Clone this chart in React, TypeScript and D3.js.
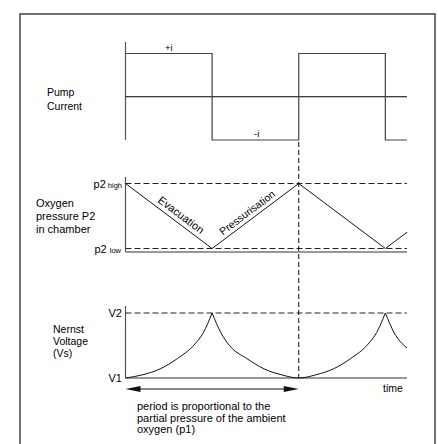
import React from "react";
import * as d3 from "d3";

// time is measured in half-periods of the pump cycle
const pumpTimes = [0, 1, 2, 3, 3.25];
const pumpLevels = [1, -1, 1, -1, -1];

const pressureTimes = [0, 1, 2, 3, 3.25];
const pressureLevels = [1, 0, 1, 0, 0.25];

const nernstTimes = [0, 0.2, 0.4, 0.6, 0.8, 0.9, 1.0, 1.1, 1.2, 1.4, 1.6, 1.8, 2.0, 2.2, 2.4, 2.6, 2.8, 2.9, 3.0, 3.1, 3.25];
const nernstLevels = [0, 0.05, 0.14, 0.3, 0.52, 0.7, 1.0, 0.7, 0.5, 0.3, 0.14, 0.05, 0, 0.05, 0.14, 0.3, 0.52, 0.7, 1.0, 0.7, 0.46];

const periodStart = 0;
const periodEnd = 2;
const timeEnd = 3.25;

const FONT = "Liberation Sans, Arial, sans-serif";

const App = () => {
  const x = d3.scaleLinear().domain([0, timeEnd]).range([125.5, 407]);
  const yPump = d3.scaleLinear().domain([-1, 1]).range([140, 53.5]);
  const yPress = d3.scaleLinear().domain([0, 1]).range([248.5, 183.5]);
  const yNernst = d3.scaleLinear().domain([0, 1]).range([378, 313]);

  const pumpLine = d3
    .line<number>()
    .x((d, i) => x(pumpTimes[i]))
    .y((d) => yPump(d))
    .curve(d3.curveStepAfter);

  const pressLine = d3
    .line<number>()
    .x((d, i) => x(pressureTimes[i]))
    .y((d) => yPress(d));

  // split the nernst curve at its cusps (the peaks) so each piece is smooth
  const pts = nernstTimes.map((t, i) => [t, nernstLevels[i]] as [number, number]);
  const pieces: [number, number][][] = [];
  let cur: [number, number][] = [];
  pts.forEach((p) => {
    cur.push(p);
    if (p[1] === 1) {
      pieces.push(cur);
      cur = [p];
    }
  });
  if (cur.length > 1) pieces.push(cur);
  const nernstLine = d3
    .line<[number, number]>()
    .x((d) => x(d[0]))
    .y((d) => yNernst(d[1]))
    .curve(d3.curveMonotoneX);

  const x0 = x(0);
  const xEnd = x(timeEnd);
  const xMark = x(periodEnd);

  // slope of the pressure ramps, for the rotated labels
  const dxRamp = x(1) - x(0);
  const dyRamp = yPress(0) - yPress(1);
  const angle = (Math.atan2(dyRamp, dxRamp) * 180) / Math.PI;

  const evacX = (x(0) + x(1)) / 2 + 10;
  const evacY = (yPress(1) + yPress(0)) / 2 + 2;
  const pressX = (x(1) + x(2)) / 2 - 6;
  const pressY = (yPress(0) + yPress(1)) / 2 - 0.5;

  const arrowY = 389;
  const ax0 = x(periodStart);
  const ax1 = x(periodEnd);

  return (
    <svg
      width={438}
      height={444}
      style={{ position: "absolute", left: 0, top: 0, background: "#fff" }}
      fontFamily={FONT}
      fill="#000"
    >
      <rect x={20} y={14} width={415} height={440} fill="none" stroke="#444" strokeWidth={1.5} />

      {/* Pump current */}
      <text x={47} y={96} fontSize={10.5}>Pump</text>
      <text x={47} y={110} fontSize={10.5}>Current</text>
      <line x1={x0} x2={x0} y1={42} y2={140} stroke="#555" strokeWidth={1.2} />
      <line x1={x0} x2={xEnd} y1={yPump(0)} y2={yPump(0)} stroke="#000" strokeWidth={1} />
      <path d={pumpLine(pumpLevels) || ""} fill="none" stroke="#444" strokeWidth={1.2} />
      <text x={165} y={51} fontSize={9.5}>+i</text>
      <text x={254} y={137} fontSize={9.5}>-i</text>

      {/* Oxygen pressure */}
      <text x={36} y={207} fontSize={11}>Oxygen</text>
      <text x={36} y={220} fontSize={11}>pressure P2</text>
      <text x={36} y={233} fontSize={11}>in chamber</text>
      <line x1={x0} x2={x0} y1={177} y2={252} stroke="#555" strokeWidth={1.2} />
      <line x1={x0} x2={xEnd} y1={yPress(1)} y2={yPress(1)} stroke="#222" strokeDasharray="6,3" />
      <line x1={x0} x2={xEnd} y1={yPress(0)} y2={yPress(0)} stroke="#222" strokeDasharray="6,3" />
      <line x1={x0} x2={xEnd} y1={252} y2={252} stroke="#777" strokeWidth={1.5} />
      <path d={pressLine(pressureLevels) || ""} fill="none" stroke="#111" strokeWidth={1} />
      <text x={122} y={yPress(1) + 4} textAnchor="end">
        <tspan fontSize={11}>p2</tspan>
        <tspan fontSize={7.5} dx={2}>high</tspan>
      </text>
      <text x={121} y={yPress(0) + 4} textAnchor="end">
        <tspan fontSize={11}>p2</tspan>
        <tspan fontSize={7.5} dx={3}>low</tspan>
      </text>
      <text
        x={evacX}
        y={evacY}
        fontSize={11}
        textAnchor="middle"
        transform={`rotate(${angle},${evacX},${evacY})`}
      >
        Evacuation
      </text>
      <text
        x={pressX}
        y={pressY}
        fontSize={10.5}
        textAnchor="middle"
        transform={`rotate(${-angle},${pressX},${pressY})`}
      >
        Pressurisation
      </text>

      {/* Nernst voltage */}
      <text x={53} y={333} fontSize={10.5}>Nernst</text>
      <text x={53} y={345} fontSize={10.5}>Voltage</text>
      <text x={53} y={357} fontSize={10.5}>(Vs)</text>
      <line x1={x0} x2={x0} y1={306} y2={378} stroke="#555" strokeWidth={1.2} />
      <line x1={x0} x2={xEnd} y1={yNernst(1)} y2={yNernst(1)} stroke="#222" strokeDasharray="6,3" />
      <line x1={x0} x2={xEnd} y1={yNernst(0)} y2={yNernst(0)} stroke="#777" strokeWidth={1.5} />
      {pieces.map((p, i) => (
        <path key={i} d={nernstLine(p) || ""} fill="none" stroke="#111" strokeWidth={1} />
      ))}
      <text x={122} y={317} fontSize={11} textAnchor="end">V2</text>
      <text x={122} y={382} fontSize={11} textAnchor="end">V1</text>

      {/* period marker */}
      <line x1={xMark} x2={xMark} y1={142} y2={378} stroke="#111" strokeDasharray="5,3" />
      <line x1={ax0 + 12} x2={ax1 - 12} y1={arrowY} y2={arrowY} stroke="#111" strokeWidth={1} />
      <path d={`M${ax0},${arrowY} L${ax0 + 15},${arrowY - 3} L${ax0 + 15},${arrowY + 3} Z`} fill="#111" />
      <path d={`M${ax1},${arrowY} L${ax1 - 15},${arrowY - 3} L${ax1 - 15},${arrowY + 3} Z`} fill="#111" />
      <text x={383} y={392} fontSize={10.5}>time</text>
      <text x={137} y={410} fontSize={11}>period is proportional to the</text>
      <text x={137} y={422} fontSize={11}>partial pressure of the ambient</text>
      <text x={137} y={433} fontSize={11}>oxygen (p1)</text>
    </svg>
  );
};

export default App;
